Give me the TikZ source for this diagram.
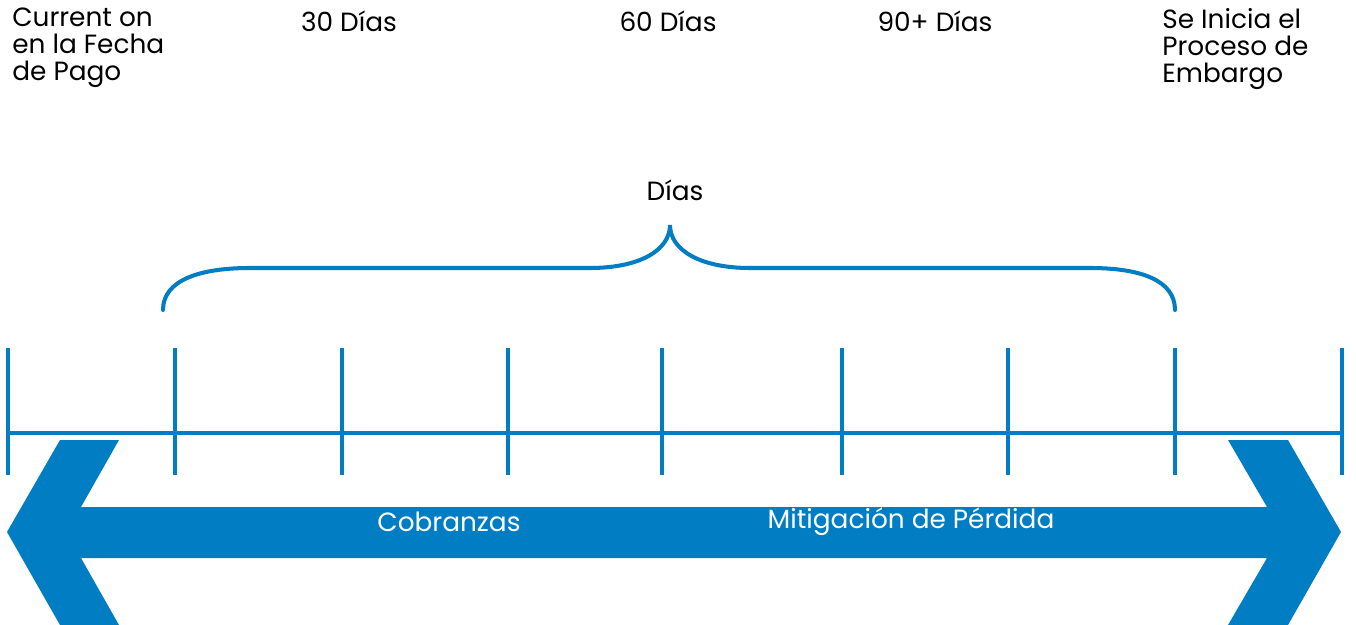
\documentclass[tikz,border=0pt]{standalone}
\usepackage{fontspec}
\setmainfont{Poppins}
\definecolor{timeblue}{HTML}{017DC3}
\begin{document}
\begin{tikzpicture}
  [x=0.02cm,y=-0.02cm,every node/.style={inner sep=0pt,font=\fontsize{15}{15.3}\selectfont},
   axis/.style={timeblue,line width=2.3pt}]

  \useasboundingbox (0,0) rectangle (1356,625);

  % ticks of the time line
  \foreach \name/\x in {t1/8,t2/175,t3/342,t4/508,t5/662,t6/842,t7/1008,t8/1175,t9/1342} {
    \coordinate (\name-top) at (\x,348);
    \coordinate (\name) at (\x,433);
    \coordinate (\name-bot) at (\x,475);
    \draw[axis] (\name-top) -- (\name-bot);
  }
  \draw[axis] (t1) -- (t9);

  % brace over the days
  \coordinate (bl) at (163,310);
  \coordinate (bt) at (670,225);
  \coordinate (br) at (1175,310);
  \draw[axis,line cap=round]
    (bl) .. controls (163,280) and (200,268) .. (250,268) -- (590,268)
         .. controls (640,268) and (670,250) .. (bt)
         .. controls (670,250) and (700,268) .. (750,268) -- (1090,268)
         .. controls (1140,268) and (1175,280) .. (br);
  \node (dias) at (675,190) {Días};

  % double arrow
  \fill[timeblue] (7,532) -- (60,440) -- (119,440) -- (81,507) -- (1267,507)
    -- (1228,440) -- (1288,440) -- (1341,532) -- (1288,625) -- (1228,625)
    -- (1267,558) -- (81,558) -- (119,625) -- (60,625) -- cycle;
  \node[text=white] (cobr) at (449,522) {Cobranzas};
  \node[text=white] (mitig) at (911,522) {Mitigación de Pérdida};

  % labels on top
  \node[anchor=north west,align=left] (current) at (12,8) {Current on\\en la Fecha\\de Pago};
  \node (d30) at (349,21) {30 Días};
  \node (d60) at (668,21) {60 Días};
  \node (d90) at (935,21) {90+ Días};
  \node[anchor=north west,align=left] (embargo) at (1162,8) {Se Inicia el\\Proceso de\\Embargo};
\end{tikzpicture}
\end{document}
